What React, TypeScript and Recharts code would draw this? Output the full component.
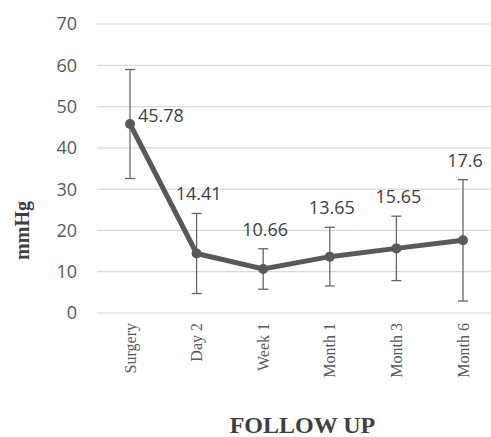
import { CartesianGrid, ErrorBar, Label, LabelList, Line, LineChart, XAxis, YAxis } from "recharts";

const categories = ["Surgery", "Day 2", "Week 1", "Month 1", "Month 3", "Month 6"];
const meanValues = [45.78, 14.41, 10.66, 13.65, 15.65, 17.6];
const errorValues = [13.2, 9.7, 4.9, 7.1, 7.8, 14.7];
const yTicks = [0, 10, 20, 30, 40, 50, 60, 70];

const INK = "#595959";
const TEXT = "#404040";
const SANS = "'Open Sans', 'DejaVu Sans', sans-serif";
const SERIF = "'Liberation Serif', 'Times New Roman', serif";

// label anchor sits on top of the error bar, except the first point (label to the right)
const data = categories.map((name, i) => ({
  name,
  mean: meanValues[i],
  err: errorValues[i],
  labelAt: i === 0 ? meanValues[i] : meanValues[i] + errorValues[i]
}));

function CategoryTick(props: any) {
  const { x, y, payload } = props;
  return (
    <g transform={`translate(${x},${y + 2}) rotate(-90)`}>
      <text x={0} y={0} dy="0.35em" textAnchor="end" fill={INK} fontFamily={SERIF} fontSize={16}>
        {payload.value}
      </text>
    </g>
  );
}

function MeanLabel(props: any) {
  const { x, y, value, index } = props;
  const first = index === 0;
  return (
    <text
      x={first ? x + 8 : x + 2}
      y={first ? y - 9 : y - 20}
      textAnchor={first ? "start" : "middle"}
      dominantBaseline="central"
      fill={TEXT}
      fontFamily={SANS}
      fontSize={18}
    >
      {value}
    </text>
  );
}

function YTitle(props: any) {
  const vb = props.viewBox ?? { x: 0, y: 24, width: 97, height: 289 };
  const cx = vb.x + 22;
  const cy = vb.y + vb.height / 2 + 62;
  return (
    <text
      x={cx}
      y={cy}
      transform={`rotate(-90, ${cx}, ${cy})`}
      textAnchor="middle"
      dominantBaseline="central"
      fill={TEXT}
      fontFamily={SERIF}
      fontWeight="bold"
      fontSize={20}
    >
      mmHg
    </text>
  );
}

export default function App() {
  return (
    <div style={{ position: "absolute", left: 0, top: 0, width: 491, height: 437, overflow: "hidden", background: "#fff" }}>
      <LineChart width={500} height={437} data={data} margin={{ top: 24, right: 4, left: 0, bottom: 0 }}>
        <CartesianGrid stroke="#d9d9d9" strokeWidth={1.2} vertical={false} />
        <XAxis
          dataKey="name"
          height={124}
          axisLine={false}
          tickLine={false}
          interval={0}
          padding={{ left: 33, right: 33 }}
          tick={<CategoryTick />}
        >
          <Label
            value="FOLLOW UP"
            position="insideBottom"
            offset={4}
            dx={6}
            fill={TEXT}
            fontFamily={SERIF}
            fontWeight="bold"
            fontSize={24}
          />
        </XAxis>
        <YAxis
          width={97}
          domain={[0, 70]}
          ticks={yTicks}
          axisLine={false}
          tickLine={false}
          tickMargin={14}
          tick={{ fill: INK, fontFamily: SANS, fontSize: 18 }}
        >
          <Label content={<YTitle />} />
        </YAxis>
        <Line
          dataKey="mean"
          stroke={INK}
          strokeWidth={5}
          dot={{ r: 5, fill: INK, stroke: INK, strokeWidth: 0 }}
          activeDot={false}
          isAnimationActive={false}
        >
          <ErrorBar dataKey="err" direction="y" width={5} stroke="#666666" strokeWidth={1.3} />
        </Line>
        <Line dataKey="labelAt" stroke="none" dot={false} activeDot={false} legendType="none" isAnimationActive={false}>
          <LabelList dataKey="mean" content={<MeanLabel />} />
        </Line>
      </LineChart>
    </div>
  );
}
